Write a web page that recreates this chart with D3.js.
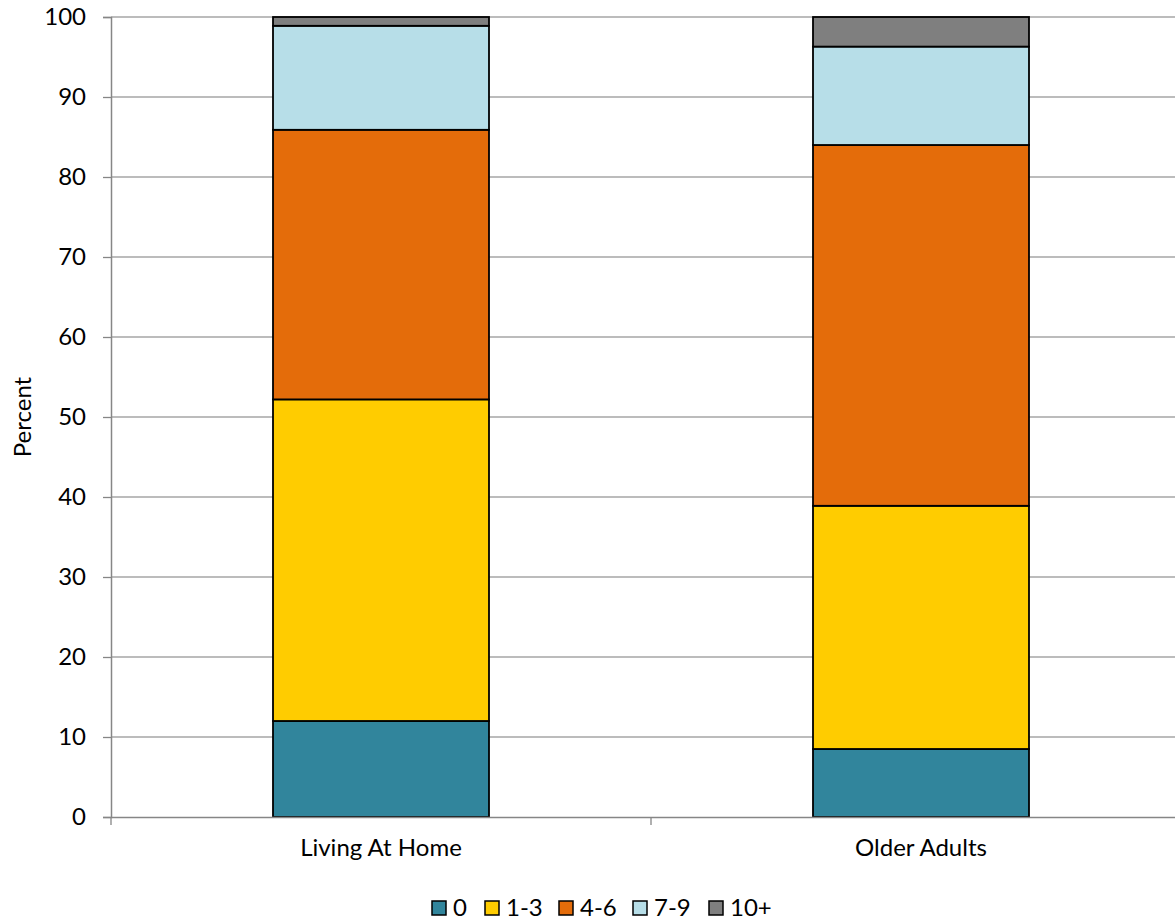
<!DOCTYPE html>
<html>
<head>
<meta charset="utf-8">
<script src="https://cdn.jsdelivr.net/npm/d3@7"></script>
<style>
html,body{margin:0;padding:0;background:#fff;overflow:hidden;}
svg{display:block;font-family:Lato,"Open Sans","Liberation Sans",sans-serif;}
</style>
</head>
<body>
<script>
const categories = ["Living At Home", "Older Adults"];
const seriesNames = ["0", "1-3", "4-6", "7-9", "10+"];
const seriesColors = ["#31859C", "#FFCC00", "#E46C0A", "#B7DEE8", "#7F7F7F"];
const values0 = [12.0, 8.5];
const values13 = [40.2, 30.4];
const values46 = [33.7, 45.1];
const values79 = [13.0, 12.3];
const values10 = [1.1, 3.7];
const yTicks = [0, 10, 20, 30, 40, 50, 60, 70, 80, 90, 100];

const W = 1175, H = 920;
const mLeft = 111, mTop = 17, plotH = 800, plotW = 1080;
const FONT = "Lato,'Open Sans',sans-serif";
const FS = 24;

const svg = d3.select("body").append("svg").attr("width", W).attr("height", H);

const x = d3.scaleBand().domain(categories).range([mLeft, mLeft + plotW]).paddingInner(0).paddingOuter(0);
const y = d3.scaleLinear().domain([0, 100]).range([mTop + plotH, mTop]);

// gridlines
svg.append("g").selectAll("line").data(yTicks.filter(d => d > 0)).join("line")
  .attr("x1", mLeft).attr("x2", mLeft + plotW)
  .attr("y1", d => y(d)).attr("y2", d => y(d))
  .attr("stroke", "#A6A6A6").attr("stroke-width", 1.3);

// y axis
const yAxis = svg.append("g").attr("transform", `translate(${mLeft},0)`)
  .call(d3.axisLeft(y).tickValues(yTicks).tickSize(8).tickPadding(17));
yAxis.select(".domain").attr("stroke", "#868686").attr("stroke-width", 1.5);
yAxis.selectAll(".tick line").attr("stroke", "#868686").attr("stroke-width", 1.3);
yAxis.selectAll("text").attr("font-size", FS).attr("fill", "#000").attr("font-family", FONT);

// stacked data
const rows = categories.map((c, i) => ({cat: c, "0": values0[i], "1-3": values13[i], "4-6": values46[i], "7-9": values79[i], "10+": values10[i]}));
const stack = d3.stack().keys(seriesNames)(rows);

const barW = 216;
svg.append("g").selectAll("g").data(stack).join("g")
  .attr("fill", (d, i) => seriesColors[i])
  .selectAll("rect").data(d => d).join("rect")
  .attr("x", d => x(d.data.cat) + x.bandwidth() / 2 - barW / 2)
  .attr("width", barW)
  .attr("y", d => y(d[1]))
  .attr("height", d => y(d[0]) - y(d[1]))
  .attr("stroke", "#000").attr("stroke-width", 1.8);

// x axis
const xAxis = svg.append("g").attr("transform", `translate(0,${mTop + plotH})`)
  .call(d3.axisBottom(x).tickSize(0).tickPadding(22));
xAxis.select(".domain").attr("stroke", "#868686").attr("stroke-width", 1.5);
xAxis.selectAll("text").attr("font-size", FS).attr("fill", "#000").attr("font-family", FONT);
// category boundary ticks
svg.append("g").selectAll("line").data(categories.concat([null])).join("line")
  .attr("x1", (d, i) => mLeft + i * x.bandwidth()).attr("x2", (d, i) => mLeft + i * x.bandwidth())
  .attr("y1", mTop + plotH).attr("y2", mTop + plotH + 8)
  .attr("stroke", "#868686").attr("stroke-width", 1.3);

// y label
svg.append("text").attr("transform", `translate(31,${mTop + plotH / 2}) rotate(-90)`)
  .attr("text-anchor", "middle").attr("font-size", FS).attr("font-family", FONT).text("Percent");

// legend
const legendX = [432, 485, 559, 633, 709];
const lg = svg.append("g").selectAll("g").data(seriesNames).join("g")
  .attr("transform", (d, i) => `translate(${legendX[i]},901)`);
lg.append("rect").attr("width", 14).attr("height", 14)
  .attr("fill", (d, i) => seriesColors[i]).attr("stroke", "#000").attr("stroke-width", 1.5);
lg.append("text").attr("x", 21).attr("y", 14.5).attr("font-size", FS).attr("font-family", FONT).text(d => d);
</script>
</body>
</html>
